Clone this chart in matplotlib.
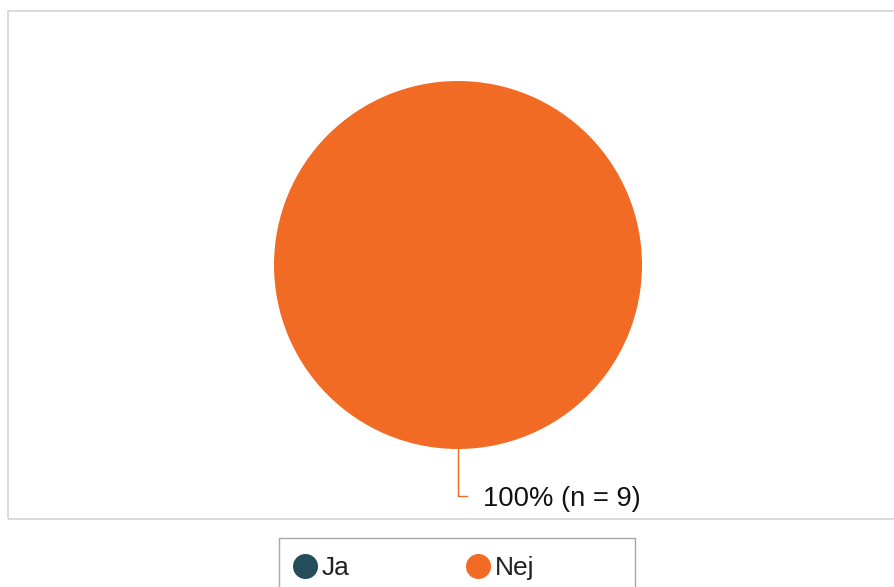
import matplotlib
import matplotlib.pyplot as plt
import numpy as np
from matplotlib.lines import Line2D
from matplotlib.patches import Rectangle

matplotlib.use("Agg")

labels = ["Ja", "Nej"]
counts = [0, 9]
colors = ["#244c5a", "#f26b24"]

plt.rcParams["font.family"] = ["Liberation Sans", "DejaVu Sans"]

W, H = 895, 587
fig = plt.figure(figsize=(W / 100, H / 100), dpi=100)

# outer chart frame (cut off at the right edge)
fig.patches.append(Rectangle((8 / W, (H - 519) / H), 900 / W, 508 / H,
                             transform=fig.transFigure, fill=False,
                             edgecolor="#d4d4d4", linewidth=1.2))
# legend frame (cut off at the bottom)
fig.patches.append(Rectangle((279 / W, -10 / H), 356 / W, (H - 538 + 10) / H,
                             transform=fig.transFigure, fill=False,
                             edgecolor="#a8a8a8", linewidth=1.0))

r = 184
cx, cy = 458, H - 265
ax = fig.add_axes([(cx - r) / W, (cy - r) / H, 2 * r / W, 2 * r / H])
wedges, _ = ax.pie(counts, colors=colors, startangle=90, counterclock=False,
                   radius=1, wedgeprops=dict(linewidth=0))
ax.set_xlim(-1, 1)
ax.set_ylim(-1, 1)
ax.set_aspect("equal")
ax.axis("off")

total = sum(counts)
for w, n in zip(wedges, counts):
    if n == 0:
        continue
    mid = np.deg2rad((w.theta1 + w.theta2) / 2)
    x0, y0 = np.cos(mid), np.sin(mid)
    ydrop = y0 - 47 / r
    ax.plot([x0, x0, x0 + 9 / r], [y0, ydrop, ydrop], color=w.get_facecolor(),
            lw=1, clip_on=False)
    ax.text(x0 + 25 / r, ydrop - 3 / r, f"{n / total * 100:.0f}% (n = {n})",
            ha="left", va="center", fontsize=19.7, color="#111111", clip_on=False)

handles = [Line2D([], [], marker="o", linestyle="none", markersize=17,
                  markerfacecolor=c, markeredgecolor=c) for c in colors]
fig.legend(handles, labels, ncol=2, loc="center left",
           bbox_to_anchor=(293 / W, (H - 568) / H),
           frameon=False, fontsize=19, handletextpad=0.2, handlelength=0.9,
           columnspacing=4.4, borderpad=0, borderaxespad=0,
           labelcolor="#222222")

fig.savefig("out.png", dpi=100)
